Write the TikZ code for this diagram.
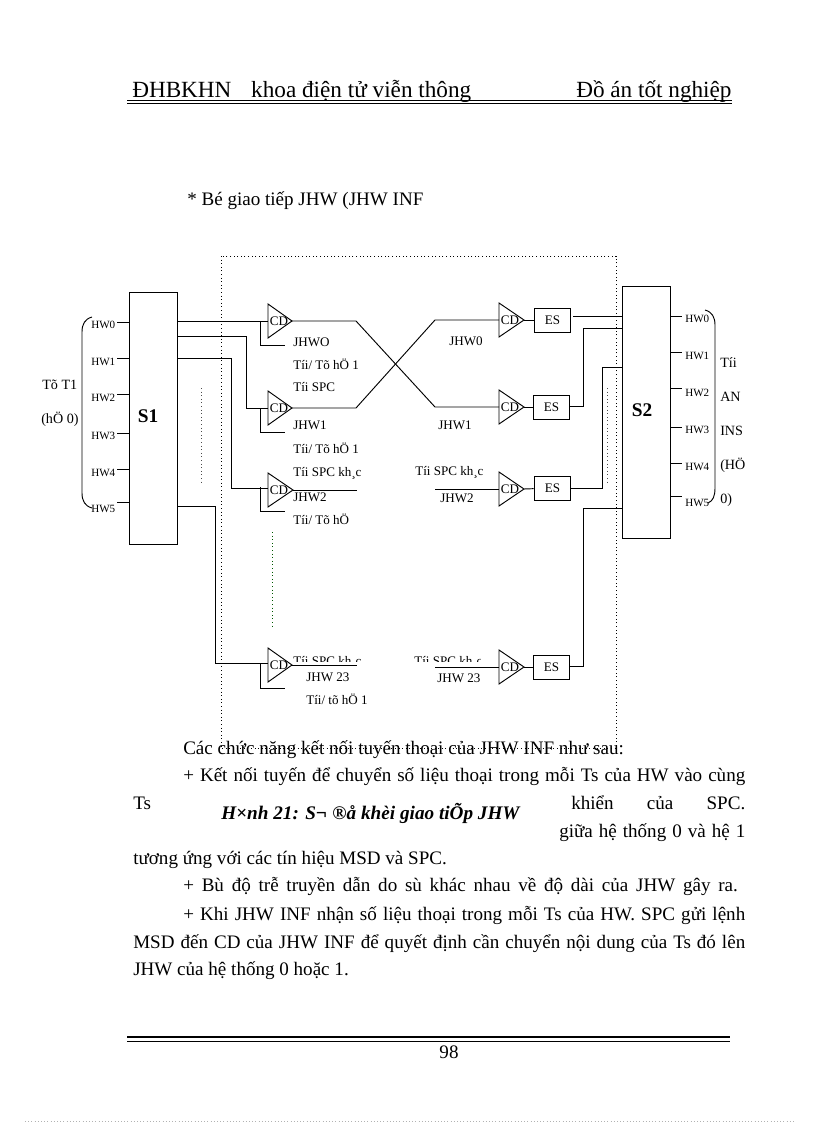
\documentclass[tikz,border=0pt]{standalone}
\usepackage{fontspec}
\setmainfont{Liberation Serif}
\tikzset{x=0.75pt,y=-0.75pt,
 wire/.style={draw=black,line width=0.7pt},
 boxs/.style={draw=black,line width=0.7pt,fill=white},
 frame/.style={draw=black,line width=0.7pt,dotted},
 lab/.style={anchor=west,inner sep=0pt,text height=7pt,text depth=0.6pt,font=\fontsize{9.8}{11}\selectfont},
 labbig/.style={anchor=west,inner sep=0pt,text height=7.5pt,text depth=0.6pt,font=\fontsize{10.6}{12}\selectfont},
 hw/.style={anchor=west,inner sep=0pt,text height=6pt,text depth=0.5pt,font=\fontsize{8.3}{9}\selectfont},
 body/.style={anchor=west,inner sep=0pt,text height=11pt,text depth=2pt,font=\fontsize{14.3}{16}\selectfont},
 head/.style={anchor=west,inner sep=0pt,text height=14pt,text depth=2pt,font=\fontsize{17.4}{19}\selectfont},
 sbig/.style={inner sep=0pt,font=\bfseries\fontsize{14.5}{16}\selectfont},
 esbox/.style={boxs,minimum width=27.5pt,minimum height=18pt,inner sep=0pt,font=\fontsize{9.8}{11}\selectfont},
 sbox/.style={boxs,minimum width=36pt,minimum height=189pt,inner sep=0pt,anchor=north west}}
\newcommand{\cdtri}[4]{% name, x, ymid, apex x
 \coordinate (#1a) at (#2,#3-17);\coordinate (#1b) at (#2,#3+17);\coordinate (#1c) at (#4,#3);
 \coordinate (#1i) at (#2,#3);
 \draw[boxs] (#1a)--(#1c)--(#1b)--cycle;
 \node[lab,anchor=center] at (#2+11,#3) {CD};}
\begin{document}
\begin{tikzpicture}
\useasboundingbox (0,0) rectangle (816,1123);
\fill[white] (0,0) rectangle (816,1123);
% header
\node[head] (h1) at (132,90) {ĐHBKHN\hspace{0.85em}khoa điện tử viễn thông};
\node[head] (h2) at (576,90) {Đồ án tốt nghiệp};
\coordinate (hl) at (127,100.5);\coordinate (hr) at (732,100.5);
\draw[line width=0.8pt] (hl)--(hr);
\draw[line width=0.5pt] ([yshift=-2.2pt]hl)--([yshift=-2.2pt]hr);
\node[body] (title) at (187,199) {* Bé giao tiếp JHW (JHW INF};
% frame
\draw[frame] (221,256) rectangle (616,748);
% S boxes
\node[sbox] (S1) at (129,292) {};
\node[sbox] (S2) at (622,286) {};
\node[sbig] (s1t) at (148,416) {S1};
\node[sbig] (s2t) at (642,410) {S2};
% left HW
\foreach \n/\y/\ty in {0/322/325,1/358/362,2/394/398,3/433/436,4/469/473,5/502/509}{
 \draw[wire] (117,\y)--(129,\y);
 \node[hw] (L\n) at (91,\ty) {HW\n};}
\foreach \n/\y/\ty in {0/316/319,1/352/356,2/388/393,3/427/430,4/463/467,5/496/503}{
 \draw[wire] (670,\y)--(682,\y);
 \node[hw] (R\n) at (685,\ty) {HW\n};}
% braces
\draw[line width=0.7pt] (92,317) .. controls (85,319) and (82,324) .. (82,332) -- (82,493) .. controls (82,501) and (85,506) .. (92,508);
\draw[line width=0.7pt] (705,310) .. controls (712,312) and (715,317) .. (715,325) -- (715,488) .. controls (715,496) and (713,501) .. (708,503);
\node[labbig] (t1) at (42,385) {Tõ T1};
\node[labbig] (t2) at (41,419) {(hÖ 0)};
\node[labbig] (r1) at (720,363) {Tíi};
\node[labbig] (r2) at (720,397) {AN};
\node[labbig] (r3) at (720,431) {INS};
\node[labbig] (r4) at (720,465) {(HÖ};
\node[labbig] (r5) at (720,499) {0)};
% dotted verticals
\draw[draw=black!70,line width=0.7pt,dotted] (201,388)--(201,483);
\draw[draw=black!70,line width=0.7pt,dotted] (607,388)--(607,483);
\draw[draw=green!35!black,line width=0.7pt,dotted] (272,532)--(272,627);
% wires left
\draw[wire] (S1.east|-0,321)--(268,321);
\draw[wire] (S1.east|-0,336)--(246,336)--(246,408)--(268,408);
\draw[wire] (S1.east|-0,358)--(231,358)--(231,488)--(268,488);
\draw[wire] (S1.east|-0,506)--(215,506)--(215,663)--(268,663);
% controls
\draw[wire] (260,321)--(260,345)--(285,345);
\draw[wire] (260,408)--(260,432)--(285,432);
\draw[wire] (260,487)--(260,511)--(285,511);
\draw[wire] (260,663)--(260,688)--(285,688);
% left triangles
\cdtri{A}{268}{321}{292}
\cdtri{B}{268}{408}{292}
\cdtri{C}{268}{490}{293}
\cdtri{D}{268}{665}{292}
% right triangles
\cdtri{E}{499}{320}{524}
\cdtri{F}{499}{407}{524}
\cdtri{G}{499}{489}{524}
\cdtri{H}{499}{667}{524}
% crossing
\draw[wire] (Ac)--(356,321)--(435,407)--(Fi);
\draw[wire] (Bc)--(356,408)--(435,320)--(Ei);
\draw[wire] (Cc)--(357,490);
\draw[wire] (Dc)--(357,665);
\coordinate (g3) at (435,489);\coordinate (h3) at (435,667);
\draw[wire] (g3)--(Gi);
\draw[wire] (h3)--(Hi);
% ES
\node[esbox] (ES1) at (552.5,320) {ES};
\node[esbox] (ES2) at (551.5,407) {ES};
\node[esbox] (ES3) at (552.5,488) {ES};
\node[esbox] (ES4) at (551.5,667) {ES};
\draw[wire] (Ec)--(ES1);
\draw[wire] (Fc)--(ES2);
\draw[wire] (Gc)--(ES3);
\draw[wire] (Hc)--(ES4);
\draw[wire] (573,316)--(S2.west|-0,316);
\draw[wire] (ES2.east|-0,406)--(583,406)--(583,328)--(S2.west|-0,328);
\draw[wire] (ES3.east|-0,488)--(602,488)--(602,367)--(S2.west|-0,367);
\draw[wire] (ES4.east|-0,666)--(583,666)--(583,508)--(S2.west|-0,508);
% labels
\foreach \lbl/\x/\y in {{JHWO}/293/342,{Tíi/ Tõ hÖ 1}/293/365,{Tíi SPC}/293/387,{JHW1}/293/425,{Tíi/ Tõ hÖ 1}/293/449,{Tíi SPC kh¸c}/293/472,{JHW2}/293/497,{Tíi/ Tõ hÖ}/293/520,{JHW0}/449/341,{JHW1}/438/425,{Tíi SPC kh¸c}/415/471,{JHW2}/440/498,{JHW 23}/306/677,{Tíi/ tõ hÖ 1}/306/700,{JHW 23}/437/678}
 \node[lab] at (\x,\y) {\lbl};
\begin{scope}
\clip (285,640) rectangle (480,661);
\node[lab] at (293,661) {Tíi SPC kh¸c};
\node[lab] at (414,661) {Tíi SPC kh¸c};
\end{scope}
% body text
\node[body] at (183,748) {Các chức năng kết nối tuyến thoại của JHW INF như sau:};
\node[body] at (183,775) {\makebox[421.5pt][s]{+ Kết nối tuyến để chuyển số liệu thoại trong mỗi Ts của HW vào cùng}};
\node[body] at (133,803) {Ts};
\node[body] at (571,803) {\makebox[130.5pt][s]{khiển của SPC.}};
\node[body] at (559,831) {\makebox[139.5pt][s]{giữa hệ thống 0 và hệ 1}};
\node[body,font=\bfseries\itshape\fontsize{14.4}{16}\selectfont] (cap) at (221,813) {H×nh 21: S¬ ®å khèi giao tiÕp JHW};
\node[body] at (133,858) {tương ứng với các tín hiệu MSD và SPC.};
\node[body] at (183,885) {\makebox[416pt][s]{+ Bù độ trễ truyền dẫn do sù khác nhau về độ dài của JHW gây ra.}};
\node[body] at (183,914) {\makebox[421.5pt][s]{+ Khi JHW INF nhận số liệu thoại trong mỗi Ts của HW. SPC gửi lệnh}};
\node[body] at (133,942) {\makebox[459pt][s]{MSD đến CD của JHW INF để quyết định cần chuyển nội dung của Ts đó lên}};
\node[body] at (133,969) {JHW của hệ thống 0 hoặc 1.};
% footer
\coordinate (fl) at (127,1037);\coordinate (fr) at (730,1037);
\draw[line width=1.4pt] (fl)--(fr);
\draw[line width=0.5pt] ([yshift=-3pt]fl)--([yshift=-3pt]fr);
\node[body,anchor=center] (pg) at (449,1052) {98};
\draw[draw=black!30,line width=0.4pt,dotted] (25,1121)--(795,1121);
\end{tikzpicture}
\end{document}
